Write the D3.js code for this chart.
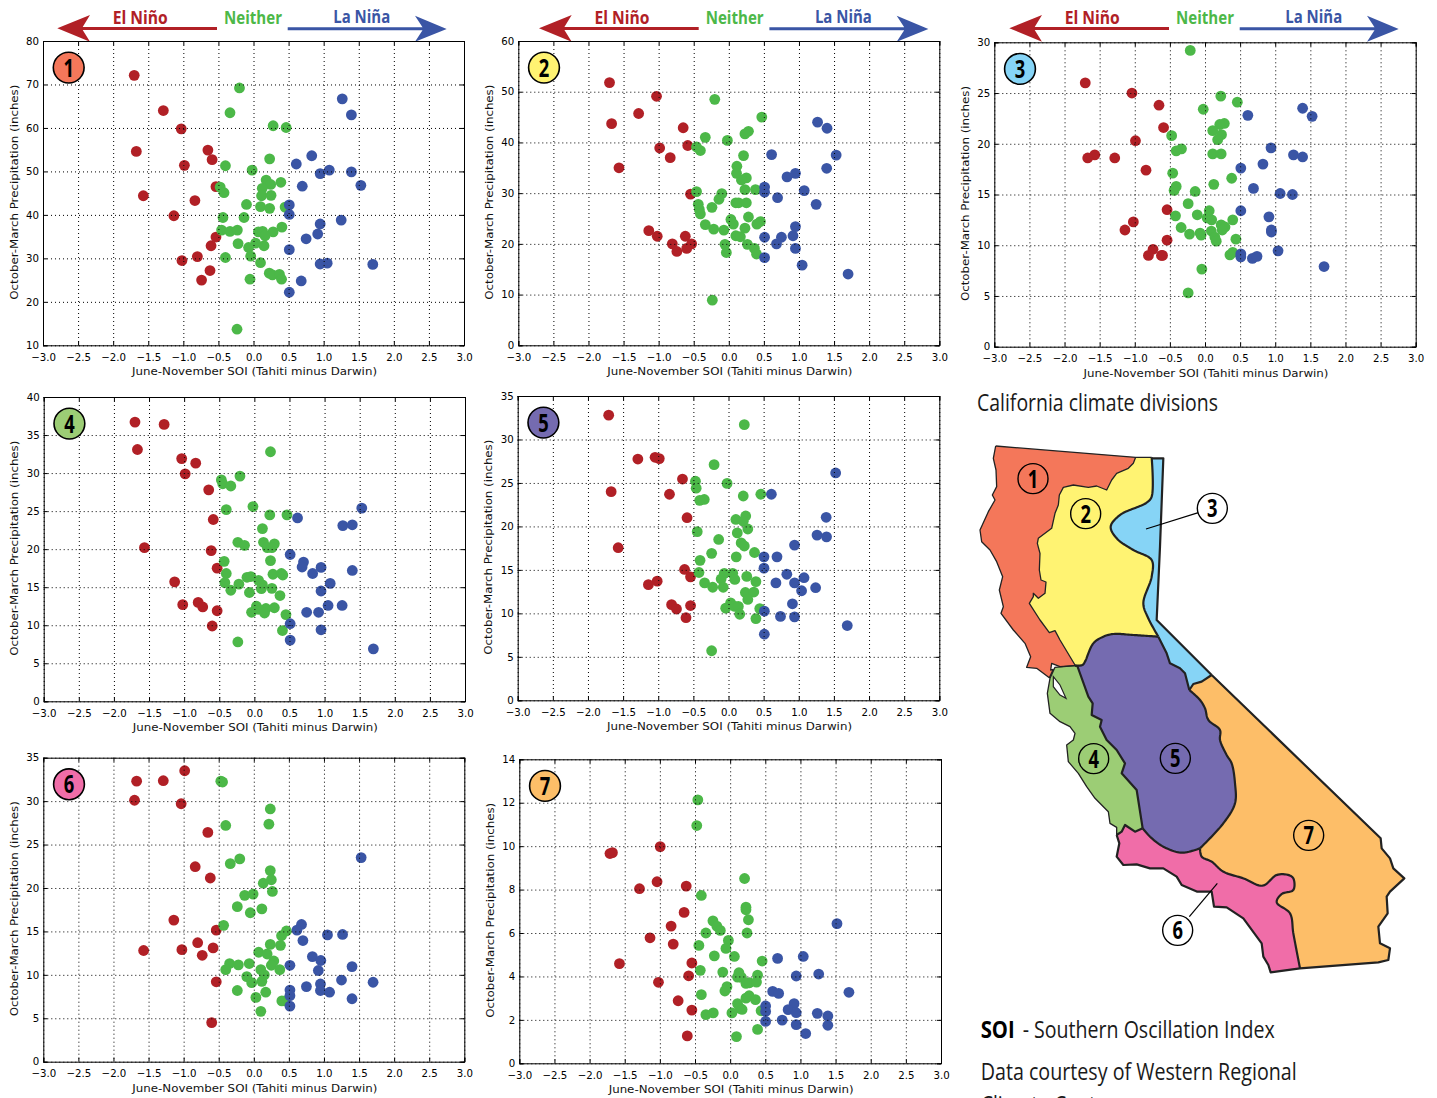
<!DOCTYPE html>
<html lang="en">
<head>
<meta charset="UTF-8">
<title>California precipitation vs SOI</title>
<style>
  html, body { margin: 0; padding: 0; background: #fff; overflow: hidden; }
  svg { display: block; }
  .tick text { font-family: "DejaVu Sans", sans-serif; font-size: 10.2px; fill: #000; }
  .axis-label { font-family: "DejaVu Sans", sans-serif; font-size: 11px; fill: #111; text-anchor: middle; }
  .narrow { font-family: "Open Sans", sans-serif; }
  .grid line { stroke: #000; stroke-width: 1; stroke-dasharray: 1 3; }
  .grid path { display: none; }
</style>
</head>
<body>
<svg id="chart" width="1437" height="1098"></svg>
<script src="https://d3js.org/d3.v7.min.js"></script>
<script>
// values: [SOI, precipitation]
const elNino1 = [[-1.70,72.1],[-1.285,64.0],[-1.03,59.8],[-1.67,54.6],[-0.65,54.9],[-0.59,52.7],[-0.985,51.4],[-0.535,46.5],[-1.57,44.4],[-0.835,43.3],[-1.135,39.8],[-0.535,34.9],[-0.605,32.9],[-0.80,30.4],[-1.02,29.5],[-0.62,27.2],[-0.74,25.0]];
const neither1 = [[-0.20,69.2],[-0.335,63.5],[0.28,60.5],[0.465,60.1],[0.23,52.9],[-0.40,51.3],[-0.02,50.3],[0.18,48.0],[0.245,47.0],[0.39,47.5],[0.125,46.1],[-0.475,46.4],[-0.42,45.1],[0.115,44.4],[0.25,44.5],[-0.10,42.4],[0.45,41.8],[0.10,41.9],[0.23,41.5],[-0.435,39.4],[-0.135,39.4],[-0.455,36.5],[-0.335,36.2],[-0.23,36.5],[0.405,37.2],[0.28,36.1],[0.07,36.1],[0.13,36.2],[0.165,35.2],[0.03,33.5],[0.15,32.9],[-0.22,33.4],[-0.07,32.5],[-0.04,30.5],[-0.40,30.2],[0.10,29.0],[0.225,26.6],[0.27,26.2],[0.37,26.3],[0.40,25.2],[-0.05,25.2],[-0.235,13.7]];
const laNina1 = [[1.265,66.7],[1.395,63.0],[0.83,53.6],[0.61,51.7],[1.08,50.3],[0.95,49.5],[1.395,49.9],[1.53,46.8],[0.695,46.6],[0.51,42.3],[0.51,40.1],[0.95,37.9],[1.25,38.8],[0.915,35.6],[0.75,34.5],[0.51,32.0],[0.95,28.7],[1.05,28.9],[1.70,28.6],[0.68,24.8],[0.51,22.2]];

const elNino2 = [[-1.70,51.8],[-1.03,49.1],[-1.285,45.7],[-1.67,43.7],[-0.65,42.9],[-0.585,39.4],[-0.985,38.9],[-0.835,37.0],[-1.565,35.0],[-0.545,29.8],[-1.14,22.6],[-1.02,21.5],[-0.62,21.5],[-0.805,20.0],[-0.53,20.0],[-0.74,18.5],[-0.60,19.1]];
const neither2 = [[-0.20,48.5],[0.47,45.0],[0.28,42.2],[0.23,41.7],[-0.335,41.0],[-0.02,40.4],[-0.46,39.1],[-0.405,38.4],[0.21,37.4],[0.115,35.3],[0.11,33.9],[0.25,33.0],[0.18,32.6],[0.23,30.7],[0.38,30.7],[-0.46,30.3],[-0.10,29.9],[-0.14,28.8],[-0.435,27.8],[0.10,28.1],[0.14,28.1],[0.25,28.1],[-0.24,27.2],[-0.42,26.8],[-0.405,25.9],[0.28,25.3],[0.03,24.8],[0.065,23.9],[0.45,24.4],[0.40,23.9],[-0.335,23.8],[-0.215,22.9],[-0.07,22.7],[0.23,23.1],[0.10,21.6],[0.165,21.4],[-0.055,19.9],[0.265,19.9],[0.365,19.1],[-0.035,18.3],[0.395,18.0],[-0.235,8.9]];
const laNina2 = [[1.265,44.0],[1.40,42.8],[0.61,37.6],[1.53,37.5],[1.395,34.9],[0.95,33.9],[0.83,33.2],[0.51,31.2],[0.51,30.2],[1.075,30.5],[0.695,29.1],[1.245,27.8],[0.95,23.4],[0.915,21.6],[0.75,21.3],[0.51,21.3],[0.68,20.0],[0.95,19.1],[0.51,17.3],[1.045,15.8],[1.70,14.05]];

const elNino3 = [[-1.705,26.0],[-1.04,25.0],[-0.655,23.8],[-0.59,21.6],[-0.99,20.3],[-1.57,18.9],[-1.67,18.6],[-1.285,18.6],[-0.84,17.4],[-0.54,13.5],[-1.02,12.3],[-1.14,11.5],[-0.54,10.5],[-0.74,9.6],[-0.805,9.0],[-0.62,9.0],[-0.605,9.0]];
const neither3 = [[-0.21,29.2],[0.225,24.7],[0.46,24.1],[-0.025,23.4],[0.275,22.0],[0.21,21.9],[0.11,21.3],[0.235,20.9],[0.18,20.4],[-0.475,20.8],[-0.335,19.5],[-0.41,19.3],[0.11,19.0],[0.23,19.0],[-0.46,17.1],[0.38,16.6],[0.125,16.0],[-0.41,15.8],[-0.44,15.4],[-0.14,15.3],[-0.24,14.1],[0.06,13.4],[-0.42,12.9],[-0.11,13.0],[0.03,12.7],[0.095,12.5],[0.395,12.5],[0.23,12.0],[0.285,11.8],[-0.34,11.75],[0.09,11.4],[0.245,11.5],[-0.22,11.1],[-0.07,11.2],[-0.055,11.0],[0.14,10.8],[0.16,10.4],[0.44,10.6],[0.395,9.3],[0.355,9.05],[-0.045,7.65],[-0.24,5.3]];
const laNina3 = [[1.39,23.5],[1.525,22.7],[0.61,22.8],[0.94,19.6],[1.26,18.9],[1.39,18.7],[0.825,18.0],[0.51,17.6],[0.69,15.6],[1.07,15.1],[1.245,15.0],[0.51,13.4],[0.91,12.8],[0.945,11.5],[0.945,11.3],[1.04,9.45],[0.51,9.15],[0.51,8.85],[0.675,8.7],[0.74,8.9],[1.695,7.9]];

const elNino4 = [[-1.70,36.7],[-1.285,36.4],[-1.665,33.1],[-1.035,31.9],[-0.835,31.3],[-0.985,29.9],[-0.65,27.8],[-0.585,23.9],[-1.565,20.2],[-0.615,19.8],[-0.53,17.5],[-1.135,15.7],[-1.02,12.7],[-0.80,13.0],[-0.735,12.4],[-0.53,11.9],[-0.60,9.9]];
const neither4 = [[0.23,32.8],[-0.205,29.6],[-0.47,29.1],[-0.45,28.6],[-0.335,28.3],[-0.40,25.2],[-0.02,25.6],[0.22,24.5],[0.465,24.5],[0.115,22.7],[-0.235,20.9],[-0.14,20.5],[0.13,20.9],[0.285,20.7],[0.185,20.2],[0.25,20.2],[-0.43,18.4],[0.23,18.5],[-0.40,16.8],[0.265,16.7],[0.385,16.8],[0.405,16.6],[-0.105,16.3],[-0.05,16.4],[0.06,15.9],[-0.42,15.6],[0.115,15.3],[-0.22,15.4],[-0.335,14.6],[0.10,14.8],[0.25,14.85],[-0.07,14.3],[0.365,13.9],[0.03,12.5],[0.165,12.2],[0.285,12.3],[0.055,12.1],[-0.04,11.7],[0.145,11.6],[0.45,11.4],[0.40,9.3],[-0.235,7.8]];
const laNina4 = [[1.53,25.4],[0.615,24.1],[1.26,23.1],[1.395,23.2],[0.51,19.3],[0.70,18.3],[0.68,17.65],[0.95,17.6],[1.395,17.2],[0.83,16.8],[1.08,15.5],[0.95,14.5],[1.05,12.6],[1.25,12.6],[0.745,11.7],[0.915,11.7],[0.51,10.2],[0.95,9.4],[0.51,8.05],[1.695,6.9]];

const elNino5 = [[-1.705,32.8],[-1.29,27.75],[-1.045,27.95],[-0.985,27.8],[-0.655,25.45],[-1.67,24.0],[-0.84,23.7],[-0.59,21.0],[-1.57,17.55],[-0.625,15.05],[-0.54,14.2],[-1.015,13.7],[-1.14,13.3],[-0.81,11.0],[-0.74,10.5],[-0.54,10.9],[-0.605,9.5]];
const neither5 = [[0.225,31.7],[-0.205,27.1],[-0.02,24.95],[-0.47,25.2],[-0.46,24.4],[-0.345,23.1],[-0.41,23.0],[0.21,23.5],[0.46,23.7],[0.245,21.2],[0.105,20.8],[0.21,20.6],[0.275,19.7],[0.125,19.25],[-0.445,19.4],[-0.14,18.5],[0.18,18.1],[0.225,17.75],[0.37,17.0],[-0.24,16.9],[0.11,16.5],[-0.405,16.1],[-0.42,14.7],[-0.06,14.6],[0.06,14.6],[-0.105,13.95],[0.09,13.9],[0.26,14.25],[0.39,13.65],[-0.34,13.5],[-0.225,13.0],[-0.075,13.0],[0.24,12.4],[0.36,12.45],[0.275,11.6],[0.03,11.2],[-0.04,10.6],[0.09,10.8],[0.14,10.8],[0.445,10.55],[0.16,9.9],[0.39,9.4],[-0.24,5.7]];
const laNina5 = [[1.525,26.15],[0.61,23.7],[1.39,21.05],[1.26,19.0],[1.395,18.8],[0.94,17.85],[0.505,16.5],[0.69,16.5],[0.505,15.2],[0.83,14.5],[1.075,14.1],[0.675,13.5],[0.94,13.5],[1.24,12.95],[1.04,12.6],[0.91,11.1],[0.51,10.25],[0.74,9.65],[0.94,9.6],[0.51,7.6],[1.69,8.6]];

const elNino6 = [[-0.985,33.5],[-1.67,32.3],[-1.29,32.35],[-1.70,30.1],[-1.035,29.7],[-0.655,26.4],[-0.835,22.45],[-0.62,21.15],[-1.14,16.3],[-0.535,15.15],[-0.80,13.7],[-1.025,12.9],[-0.58,13.1],[-1.57,12.8],[-0.735,12.25],[-0.535,9.2],[-0.60,4.5]];
const neither6 = [[-0.47,32.3],[-0.445,32.2],[0.235,29.1],[0.215,27.35],[-0.40,27.2],[-0.20,23.35],[-0.335,22.8],[0.235,22.0],[0.25,20.95],[0.135,20.55],[0.265,19.6],[-0.13,19.15],[-0.01,19.3],[-0.235,17.85],[0.115,17.6],[-0.05,17.15],[-0.43,15.7],[0.465,15.05],[0.395,14.5],[0.38,13.4],[0.235,13.5],[0.07,12.6],[0.19,12.4],[0.285,11.6],[0.25,11.1],[-0.345,11.3],[-0.22,11.15],[-0.065,11.3],[0.10,10.6],[0.37,10.6],[-0.40,10.6],[0.15,10.0],[-0.10,9.8],[-0.03,9.1],[0.115,9.25],[-0.235,8.2],[0.17,8.0],[0.03,7.4],[0.40,7.0],[0.445,7.0],[0.10,5.8]];
const laNina6 = [[1.53,23.5],[0.68,15.8],[0.615,15.15],[1.265,14.65],[1.05,14.6],[0.70,13.95],[0.835,12.1],[0.955,11.65],[0.515,11.1],[1.40,10.95],[0.92,10.5],[1.25,9.4],[1.70,9.15],[0.95,8.95],[0.75,8.65],[0.515,8.25],[0.95,8.2],[1.08,8.0],[0.515,7.6],[1.40,7.25],[0.515,6.4]];

const elNino7 = [[-0.995,9.98],[-1.71,9.66],[-1.675,9.7],[-1.04,8.36],[-1.29,8.04],[-0.625,8.16],[-0.655,6.95],[-0.84,6.32],[-1.14,5.78],[-0.81,5.49],[-1.575,4.59],[-0.545,4.62],[-0.59,4.03],[-1.02,3.73],[-0.74,2.88],[-0.545,2.45],[-0.61,1.26]];
const neither7 = [[-0.46,12.13],[-0.475,10.95],[0.205,8.51],[-0.41,7.73],[0.225,7.19],[0.225,7.07],[0.26,6.61],[-0.245,6.56],[-0.19,6.32],[-0.14,6.12],[-0.345,6.0],[0.24,6.0],[-0.445,5.43],[-0.025,5.66],[-0.06,5.29],[-0.225,4.95],[0.06,4.92],[0.455,4.71],[-0.425,4.28],[-0.105,4.2],[0.125,4.17],[0.105,3.97],[0.39,4.06],[0.16,3.96],[0.225,3.68],[0.275,3.71],[0.375,3.74],[-0.045,3.53],[-0.075,3.33],[-0.41,3.16],[0.27,3.11],[0.225,3.0],[0.36,2.93],[0.105,2.75],[0.14,2.53],[0.17,2.48],[0.44,2.42],[0.025,2.32],[-0.24,2.32],[-0.345,2.24],[0.39,1.56],[0.09,1.23]];
const laNina7 = [[1.52,6.43],[1.04,4.92],[0.675,4.83],[1.26,4.11],[0.94,4.02],[1.69,3.27],[0.605,3.31],[0.69,3.22],[0.505,2.64],[0.91,2.75],[0.825,2.47],[0.94,2.33],[0.505,2.39],[1.24,2.3],[1.39,2.18],[0.74,1.99],[0.505,1.93],[0.94,1.78],[1.39,1.75],[1.075,1.37]];

const xTicks = [-3,-2.5,-2,-1.5,-1,-0.5,0,0.5,1,1.5,2,2.5,3];
const yTicks1 = [10,20,30,40,50,60,70,80];
const yTicks2 = [0,10,20,30,40,50,60];
const yTicks3 = [0,5,10,15,20,25,30];
const yTicks4 = [0,5,10,15,20,25,30,35,40];
const yTicks5 = [0,5,10,15,20,25,30,35];
const yTicks6 = [0,5,10,15,20,25,30,35];
const yTicks7 = [0,2,4,6,8,10,12,14];

const xLabel = "June-November SOI (Tahiti minus Darwin)";
const yLabel = "October-March Precipitation (inches)";
const phases = ["El Niño", "Neither", "La Niña"];

const red = "#b12026", green = "#4cb848", blue = "#3a55a5";
const divisionColors = ["#f4775a", "#fff372", "#86d4f6", "#9ccd75", "#756bb0", "#f06da8", "#fdbe68"];

// [left, top, right, bottom] of each plot frame
const frames = [
  [43, 41, 464, 345.3], [518.3, 41, 939.3, 345.3], [994.3, 42.3, 1415.7, 346.7],
  [43.7, 397, 465, 701.3], [517.7, 396, 939.3, 700.3],
  [43.3, 757.7, 464.3, 1061.7], [519.3, 759.3, 941, 1063.3]
];
const panels = [
  [elNino1, neither1, laNina1, yTicks1], [elNino2, neither2, laNina2, yTicks2],
  [elNino3, neither3, laNina3, yTicks3], [elNino4, neither4, laNina4, yTicks4],
  [elNino5, neither5, laNina5, yTicks5], [elNino6, neither6, laNina6, yTicks6],
  [elNino7, neither7, laNina7, yTicks7]
];

const svg = d3.select("#chart");

// El Nino / La Nina arrows above the top row
function drawArrows(dx) {
  const g = svg.append("g").attr("transform", `translate(${dx},0)`);
  const line = d3.line();
  g.append("path").attr("fill", red)
    .attr("d", line([[57.3,28.3],[90,15],[82.7,27],[217,27],[217,30],[82.7,30],[90,41.7]]) + "Z");
  g.append("path").attr("fill", blue)
    .attr("d", line([[446.7,29],[415,15.7],[422.5,27.3],[287.7,27.3],[287.7,30.3],[422.5,30.3],[415,41.7]]) + "Z");
  const labels = [[phases[0], 140.3, 24, red, 55], [phases[1], 253, 24, green, 58], [phases[2], 361.7, 23, blue, 57]];
  labels.forEach(l => {
    g.append("text").attr("class", "narrow")
      .attr("x", l[1]).attr("y", l[2]).attr("text-anchor", "middle")
      .attr("font-size", 17).attr("font-weight", "bold").attr("fill", l[3])
      .attr("textLength", l[4]).attr("lengthAdjust", "spacingAndGlyphs")
      .text(l[0]);
  });
}
[0, 481.7, 952].forEach(drawArrows);

panels.forEach((p, i) => {
  const [left, top, right, bottom] = frames[i];
  const w = right - left, h = bottom - top;
  const yt = p[3];
  const g = svg.append("g").attr("transform", `translate(${left},${top})`);

  const x = d3.scaleLinear().domain([-3, 3]).range([0, w]);
  const y = d3.scaleLinear().domain([yt[0], yt[yt.length - 1]]).range([h, 0]);

  [[p[0], red], [p[1], green], [p[2], blue]].forEach(s => {
    g.selectAll(null).data(s[0]).enter().append("circle")
      .attr("cx", d => x(d[0]))
      .attr("cy", d => y(d[1]))
      .attr("r", 5.4)
      .attr("fill", s[1]);
  });

  // grid sits on top of the dots
  g.append("g").attr("class", "grid")
    .call(d3.axisBottom(x).tickValues(xTicks).tickSize(h).tickFormat(""));
  g.append("g").attr("class", "grid")
    .call(d3.axisLeft(y).tickValues(yt).tickSize(-w).tickFormat(""));

  const fx = d3.format(".1f");
  g.append("g").attr("transform", `translate(0,${h})`)
    .call(d3.axisBottom(x).tickValues(xTicks).tickSize(-4).tickPadding(8).tickFormat(fx));
  g.append("g")
    .call(d3.axisLeft(y).tickValues(yt).tickSize(-4).tickPadding(4).tickFormat(d3.format("d")));
  g.append("g").call(d3.axisTop(x).tickValues(xTicks).tickSize(-4).tickFormat(""));
  g.append("g").attr("transform", `translate(${w},0)`)
    .call(d3.axisRight(y).tickValues(yt).tickSize(-4).tickFormat(""));
  g.selectAll(".domain").attr("stroke", "#000").attr("stroke-width", 1);
  g.selectAll(".tick line").filter(function () { return !this.closest(".grid"); }).attr("stroke", "#000");

  g.append("text").attr("class", "axis-label")
    .attr("x", w / 2 + 1).attr("y", h + 30)
    .attr("textLength", 245).attr("lengthAdjust", "spacingAndGlyphs")
    .text(xLabel);
  g.append("text").attr("class", "axis-label")
    .attr("transform", `translate(-25.5,${h / 2 - 1}) rotate(-90)`)
    .attr("textLength", 215).attr("lengthAdjust", "spacingAndGlyphs")
    .text(yLabel);

  // division badge
  g.append("circle").attr("cx", 25.7).attr("cy", 26.6).attr("r", 15.4)
    .attr("fill", divisionColors[i]).attr("stroke", "#000").attr("stroke-width", 1.6);
  g.append("text").attr("class", "narrow")
    .attr("x", 25.7).attr("y", 35.6).attr("text-anchor", "middle")
    .attr("font-size", 25).attr("font-weight", "bold").attr("fill", "#000")
    .attr("textLength", 10.5).attr("lengthAdjust", "spacingAndGlyphs")
    .text(i + 1);
});

// map outlines traced in a 3x crop of the right column
const mapX = d3.scaleLinear().domain([0, 1431]).range([960, 1437]);
const mapY = d3.scaleLinear().domain([0, 1080]).range([380, 740]);

// rounds a traced border by sampling a curve through its points
const probe = svg.append("path").attr("fill", "none").attr("display", "none");
function smooth(points) {
  probe.attr("d", d3.line().curve(d3.curveCatmullRom.alpha(0.5))(points));
  const node = probe.node(), len = node.getTotalLength(), out = [];
  for (let s = 0; s < len; s += 5) {
    const q = node.getPointAtLength(s);
    out.push([q.x, q.y]);
  }
  out.push(points[points.length - 1]);
  return out;
}

const border12 = [[527,232],[520,250],[505,265],[470,280],[455,300],[440,330],[410,318],[385,322],[340,315],[310,322],[298,345],[295,375],[285,400],[275,445],[235,475],[232,490],[240,520],[238,570],[243,600],[258,606],[255,640],[235,655],[220,640],[220,650],[208,670],[240,720],[268,758],[285,752],[300,780],[345,855]];
const coast1 = [[345,857],[300,860],[275,850],[272,870],[280,868],[268,893],[230,865],[200,862],[212,830],[195,790],[160,750],[123,700],[130,680],[118,630],[128,590],[110,545],[90,510],[65,485],[60,450],[85,395],[105,360],[97,345],[110,320],[108,270],[100,235],[107,198]];
const border23 = smooth([[575,232],[575,350],[560,368],[480,405],[452,440],[470,475],[520,510],[575,540],[575,590],[550,670],[565,715],[595,770]]);
const border25 = smooth([[595,770],[520,765],[460,762],[430,770],[400,790],[375,845],[368,855],[345,857]]);
const border35 = [[595,770],[620,820],[630,850],[660,865],[675,880],[688,930]];
const east3 = [[575,235],[610,235],[600,500],[590,720],[755,885]];
const border37 = [[755,885],[725,905],[700,912],[688,930]];
const border57 = smooth([[688,930],[720,960],[735,985],[745,1020],[780,1050],[780,1080],[800,1125],[815,1150],[825,1210],[825,1270],[790,1330],[720,1405]]);
const border56 = smooth([[720,1405],[665,1418],[610,1400],[570,1370],[548,1345]]);
const border45 = [[548,1345],[530,1230],[485,1180],[495,1150],[470,1110],[440,1080],[420,1040],[425,1020],[395,1005],[398,970],[385,950],[352,858],[345,857]];
const border46 = [[548,1345],[525,1355],[495,1335],[485,1355],[470,1365]];
const coast4 = [[470,1365],[470,1342],[450,1330],[445,1295],[405,1255],[380,1220],[355,1180],[325,1145],[320,1095],[340,1080],[345,1060],[330,1040],[300,1025],[270,1000],[262,940],[270,895],[285,862],[345,857]];
const coast6 = [[470,1365],[478,1390],[470,1430],[490,1455],[530,1453],[570,1465],[610,1465],[650,1490],[665,1515],[712,1535],[755,1535],[762,1580],[800,1582],[850,1615],[905,1690],[910,1730],[925,1755],[932,1777],[1020,1765]];
const border67 = smooth([[720,1405],[725,1430],[755,1445],[790,1475],[850,1495],[908,1517],[950,1485],[985,1485],[1000,1495],[1000,1530],[965,1542],[950,1567],[990,1600],[1000,1660],[1020,1765]]);
const east7 = [[755,885],[1262,1375],[1265,1405],[1290,1435],[1300,1465],[1333,1495],[1290,1535],[1280,1550],[1283,1600],[1255,1640],[1260,1690],[1290,1705],[1285,1740],[1255,1747],[1020,1765]];
const top1 = [[107,198],[527,232],[575,232]];
const bay = [[280,890],[300,915],[318,955],[300,945],[280,920]];

const rev = a => a.slice().reverse();
const divisions = [
  [...top1.slice(0, 2), ...border12, ...coast1],
  [[527,232],[575,232], ...border23, ...border25.slice(1), ...rev(border12)],
  [...east3, ...border37, ...rev(border35), ...rev(border23)],
  [...rev(border45), ...border46, ...coast4],
  [...border35, ...border57, ...border56, ...border45, ...rev(border25).slice(1)],
  [...rev(border46), ...rev(border56), ...border67, ...rev(coast6)],
  [...east7, ...rev(border67), ...rev(border57), ...rev(border37)]
];

const mapLine = d3.line().x(d => mapX(d[0])).y(d => mapY(d[1]));
const map = svg.append("g");
divisions.forEach((d, i) => {
  map.append("path").attr("d", mapLine(d) + "Z")
    .attr("fill", divisionColors[i]).attr("stroke", "none");
});
[border12, coast1, top1, border23, border25, border35, east3, border37, border57, border56, border45, border46, coast4, coast6, border67, east7]
  .forEach(d => {
    map.append("path").attr("d", mapLine(d)).attr("fill", "none")
      .attr("stroke", "#222").attr("stroke-linejoin", "round")
      .attr("stroke-width", d === border12 || d === coast1 || d === top1 || d === coast4 ? 1.3 : 2.2);
  });
map.append("path").attr("d", mapLine(bay) + "Z").attr("fill", "#fff").attr("stroke", "#222").attr("stroke-width", 1.2);

// callout lines, then the numbered circles
const leaders = [[[558,447],[715,398]], [[772,1510],[688,1610]]];
leaders.forEach(d => {
  map.append("path").attr("d", mapLine(d)).attr("stroke", "#000").attr("stroke-width", 1.2);
});
const mapBadges = [[1,219,296,"none"],[2,377,401,"none"],[3,757,385,"#fff"],[4,401,1136,"none"],[5,646,1135,"none"],[6,653,1651,"#fff"],[7,1046,1366,"none"]];
mapBadges.forEach(b => {
  map.append("circle").attr("cx", mapX(b[1])).attr("cy", mapY(b[2])).attr("r", 15)
    .attr("fill", b[3]).attr("stroke", "#000").attr("stroke-width", 1.4);
  map.append("text").attr("class", "narrow")
    .attr("x", mapX(b[1])).attr("y", mapY(b[2]) + 9).attr("text-anchor", "middle")
    .attr("font-size", 25).attr("font-weight", "bold").attr("fill", "#000")
    .attr("textLength", 10.5).attr("lengthAdjust", "spacingAndGlyphs")
    .text(b[0]);
});

// notes in the right column
const note = (x, y, len) => svg.append("text").attr("class", "narrow")
  .attr("x", x).attr("y", y).attr("font-size", 24).attr("fill", "#1a1a1a")
  .attr("textLength", len).attr("lengthAdjust", "spacingAndGlyphs");

note(977, 411, 241).text("California climate divisions");
note(980.7, 1038, 34).attr("font-weight", "bold").attr("fill", "#000").text("SOI");
note(1022.7, 1038, 252).text("- Southern Oscillation Index");
note(980.7, 1080, 316).text("Data courtesy of Western Regional");
note(980.7, 1113, 134).text("Climate Center");
</script>
</body>
</html>
